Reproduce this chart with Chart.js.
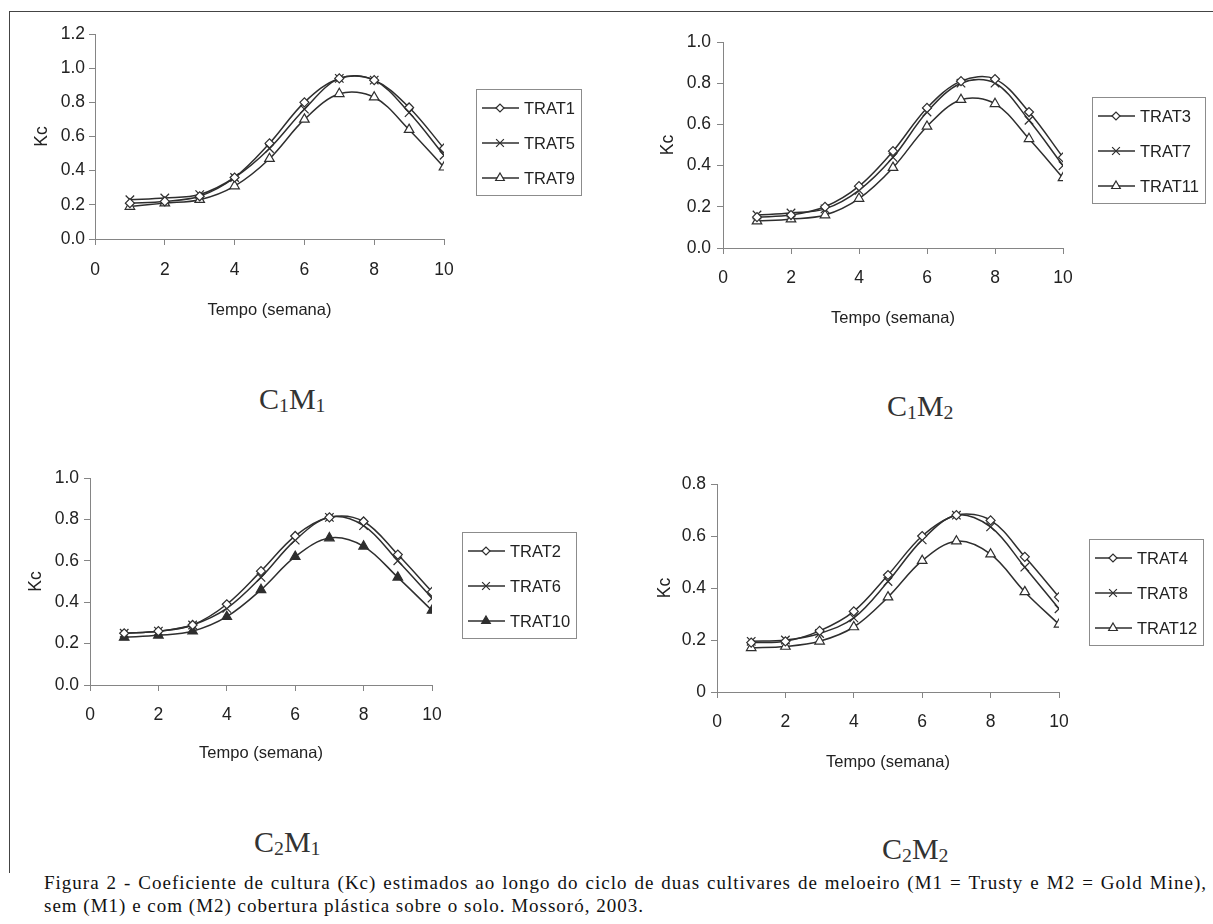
<!DOCTYPE html>
<html lang="pt">
<head>
<meta charset="utf-8">
<title>Figura 2 - Kc meloeiro</title>
<script src="https://cdn.jsdelivr.net/npm/chart.js@4.4.1/dist/chart.umd.min.js"></script>
<style>
  html, body { margin: 0; padding: 0; background: #fff; }
  body { width: 1213px; height: 924px; position: relative; overflow: hidden; }
  .frame-top { position: absolute; left: 9px; top: 11px; width: 1204px; border-top: 1.5px solid #444; }
  .frame-left { position: absolute; left: 9px; top: 11px; height: 862px; border-left: 1.5px solid #444; }
  canvas { position: absolute; }
  .sub { position: absolute; font-family: "Liberation Serif", "Times New Roman", serif; font-size: 30px;
         line-height: 1; color: #333; white-space: nowrap; }
  .sub sub { font-size: 0.66em; vertical-align: baseline; position: relative; top: 0.14em; }
  .cap { position: absolute; font-family: "Liberation Serif", "Times New Roman", serif; font-size: 19px;
         line-height: 20px; color: #111; white-space: nowrap; letter-spacing: 1px; }
  .cap.l1 { left: 44px; top: 873px; width: 1163px; white-space: normal; text-align: justify; text-align-last: justify; }
  .cap.l2 { left: 44px; top: 896px; }
</style>
</head>
<body>
<div class="frame-top"></div>
<div class="frame-left"></div>

<canvas id="c1m1" width="590" height="326" style="left:15px;top:14px"></canvas>
<canvas id="c1m2" width="593" height="320" style="left:620px;top:20px"></canvas>
<canvas id="c2m1" width="590" height="330" style="left:15px;top:450px"></canvas>
<canvas id="c2m2" width="593" height="330" style="left:620px;top:455px"></canvas>

<div class="sub" style="left:259px;top:384px">C<sub>1</sub>M<sub>1</sub></div>
<div class="sub" style="left:887px;top:391px">C<sub>1</sub>M<sub>2</sub></div>
<div class="sub" style="left:254px;top:827px">C<sub>2</sub>M<sub>1</sub></div>
<div class="sub" style="left:882px;top:834px">C<sub>2</sub>M<sub>2</sub></div>

<div class="cap l1">Figura 2 - Coeficiente de cultura (Kc) estimados ao longo do ciclo de duas cultivares de meloeiro (M1 = Trusty e M2 = Gold Mine),</div>
<div class="cap l2">sem (M1) e com (M2) cobertura plástica sobre o solo. Mossoró, 2003.</div>

<script>
// ---- dados ----
const semanas = [1, 2, 3, 4, 5, 6, 7, 8, 9, 10];
const xTicks = [0, 2, 4, 6, 8, 10];
const xLabels = ["0", "2", "4", "6", "8", "10"];

// C1M1
const trat1 = [0.21, 0.22, 0.25, 0.36, 0.56, 0.80, 0.94, 0.93, 0.77, 0.53];
const trat5 = [0.23, 0.24, 0.26, 0.36, 0.53, 0.76, 0.94, 0.93, 0.74, 0.49];
const trat9 = [0.19, 0.21, 0.23, 0.31, 0.47, 0.70, 0.85, 0.83, 0.64, 0.42];
// C1M2
const trat3 = [0.15, 0.16, 0.20, 0.30, 0.47, 0.68, 0.81, 0.82, 0.66, 0.44];
const trat7 = [0.16, 0.17, 0.19, 0.28, 0.44, 0.66, 0.80, 0.80, 0.62, 0.40];
const trat11 = [0.13, 0.14, 0.16, 0.24, 0.39, 0.59, 0.72, 0.70, 0.53, 0.34];
// C2M1
const trat2 = [0.25, 0.26, 0.29, 0.39, 0.55, 0.72, 0.81, 0.79, 0.63, 0.45];
const trat6 = [0.25, 0.26, 0.29, 0.37, 0.52, 0.70, 0.81, 0.77, 0.60, 0.42];
const trat10 = [0.23, 0.24, 0.26, 0.33, 0.46, 0.62, 0.71, 0.67, 0.52, 0.36];
// C2M2
const trat4 = [0.19, 0.195, 0.235, 0.31, 0.45, 0.60, 0.68, 0.66, 0.52, 0.365];
const trat8 = [0.195, 0.20, 0.225, 0.285, 0.425, 0.585, 0.68, 0.635, 0.48, 0.32];
const trat12 = [0.17, 0.175, 0.195, 0.25, 0.365, 0.505, 0.58, 0.53, 0.385, 0.26];

const yTicksA = [0, 0.2, 0.4, 0.6, 0.8, 1.0, 1.2];
const yLabelsA = ["0.0", "0.2", "0.4", "0.6", "0.8", "1.0", "1.2"];
const yTicksB = [0, 0.2, 0.4, 0.6, 0.8, 1.0];
const yLabelsB = ["0.0", "0.2", "0.4", "0.6", "0.8", "1.0"];
const yTicksC = [0, 0.2, 0.4, 0.6, 0.8];
const yLabelsC = ["0", "0.2", "0.4", "0.6", "0.8"];

// ---- estilo ----
const FONT = "'Liberation Sans', Arial, sans-serif";
const TICKSIZE = 17.5;
const TXTSIZE = 16.5;
const LH_T = TICKSIZE * 1.2;
const LH_X = TXTSIZE * 1.2;
const LINE = "#2e2e2e";
const AXIS = "#858585";
const TICK = 6;

Chart.defaults.font.family = FONT;
Chart.defaults.font.size = TICKSIZE;
Chart.defaults.color = "#222";

const MARK = {
  losango: { pointStyle: "rectRot", pointRadius: 4.5, pointBackgroundColor: "#fff" },
  xis: { pointStyle: "crossRot", pointRadius: 6, pointBackgroundColor: LINE },
  triang: { pointStyle: "triangle", pointRadius: 5.5, pointBackgroundColor: "#fff" },
  triangCheio: { pointStyle: "triangle", pointRadius: 5.5, pointBackgroundColor: LINE },
};

function serie(label, valores, marca) {
  return Object.assign({
    label,
    data: semanas.map((s, i) => ({ x: s, y: valores[i] })),
    borderColor: LINE,
    borderWidth: 1.5,
    pointBorderColor: LINE,
    pointBorderWidth: 1.2,
    tension: 0.35,
    fill: false,
  }, MARK[marca]);
}

// legenda em caixa (linha - marcador - linha + texto)
const boxLegend = {
  id: "boxLegend",
  afterDraw(chart, args, opts) {
    const ctx = chart.ctx;
    const x0 = opts.left, y0 = opts.top;
    const sets = chart.data.datasets;
    ctx.save();
    ctx.font = TXTSIZE + "px " + FONT;
    let maxW = 0;
    sets.forEach((ds) => { maxW = Math.max(maxW, ctx.measureText(ds.label).width); });
    const w = Math.round(48 + maxW + 6), h = 106;
    ctx.strokeStyle = "#8c8c8c";
    ctx.lineWidth = 1;
    ctx.strokeRect(x0 + 0.5, y0 + 0.5, w, h);
    sets.forEach((ds, i) => {
      const y = y0 + 19 + i * 35;
      ctx.strokeStyle = LINE;
      ctx.lineWidth = ds.borderWidth;
      ctx.beginPath();
      ctx.moveTo(x0 + 6, y);
      ctx.lineTo(x0 + 43, y);
      ctx.stroke();
      ctx.fillStyle = ds.pointBackgroundColor;
      ctx.strokeStyle = LINE;
      ctx.lineWidth = ds.pointBorderWidth;
      Chart.helpers.drawPoint(ctx, {
        pointStyle: ds.pointStyle, radius: ds.pointRadius - 0.5, rotation: 0, borderWidth: ds.pointBorderWidth,
      }, x0 + 24, y);
      ctx.fillStyle = "#222";
      ctx.textAlign = "left";
      ctx.textBaseline = "middle";
      ctx.fillText(ds.label, x0 + 48, y + 1);
    });
    ctx.restore();
  },
};

// p = posições na página (canvas, área do gráfico, títulos, legenda)
function makeChart(id, p, datasets, yTicks, yLabels) {
  const cv = document.getElementById(id);
  const cx = parseFloat(cv.style.left), cy = parseFloat(cv.style.top);
  const cw = cv.width, ch = cv.height;
  const a = p.area;

  return new Chart(cv, {
    type: "line",
    data: { datasets },
    plugins: [boxLegend],
    options: {
      responsive: false,
      animation: false,
      events: [],
      layout: { padding: { left: 0, top: a.t - cy, right: cx + cw - a.r, bottom: 0 } },
      plugins: {
        legend: { display: false },
        tooltip: { enabled: false },
        boxLegend: { left: p.legend[0] - cx, top: p.legend[1] - cy },
      },
      scales: {
        x: {
          type: "linear",
          min: 0,
          max: 10,
          afterFit: (s) => { s.height = cy + ch - a.b; },
          afterBuildTicks: (s) => { s.ticks = xTicks.map((v) => ({ value: v })); },
          ticks: {
            padding: p.xLabY - a.b - TICK - LH_T / 2,
            maxRotation: 0,
            callback: (v, i) => xLabels[i],
          },
          grid: { drawOnChartArea: false, drawTicks: true, tickLength: TICK, color: AXIS },
          border: { display: true, color: AXIS, width: 1 },
          title: {
            display: true,
            text: "Tempo (semana)",
            font: { size: TXTSIZE },
            padding: { top: 0, bottom: cy + ch - p.tempoY - LH_X / 2 },
          },
        },
        y: {
          type: "linear",
          min: 0,
          max: yTicks[yTicks.length - 1],
          afterFit: (s) => { s.width = a.l - cx; },
          afterBuildTicks: (s) => { s.ticks = yTicks.map((v) => ({ value: v })); },
          ticks: {
            padding: a.l - TICK - p.yLabRight,
            callback: (v, i) => yLabels[i],
          },
          grid: { drawOnChartArea: false, drawTicks: true, tickLength: TICK, color: AXIS },
          border: { display: true, color: AXIS, width: 1 },
          title: {
            display: true,
            text: "Kc",
            font: { size: TICKSIZE },
            padding: { top: p.kcX - cx - LH_T / 2, bottom: 0 },
          },
        },
      },
    },
  });
}

makeChart("c1m1", {
  area: { l: 95, r: 444, t: 34, b: 239 },
  yLabRight: 85, xLabY: 270, tempoY: 310, kcX: 42, legend: [476, 89],
}, [serie("TRAT1", trat1, "losango"), serie("TRAT5", trat5, "xis"), serie("TRAT9", trat9, "triang")],
yTicksA, yLabelsA);

makeChart("c1m2", {
  area: { l: 723, r: 1063, t: 42, b: 248 },
  yLabRight: 711, xLabY: 278, tempoY: 318, kcX: 668, legend: [1092, 97],
}, [serie("TRAT3", trat3, "losango"), serie("TRAT7", trat7, "xis"), serie("TRAT11", trat11, "triang")],
yTicksB, yLabelsB);

makeChart("c2m1", {
  area: { l: 90, r: 432, t: 478, b: 685 },
  yLabRight: 79, xLabY: 715, tempoY: 753, kcX: 36, legend: [462, 532],
}, [serie("TRAT2", trat2, "losango"), serie("TRAT6", trat6, "xis"), serie("TRAT10", trat10, "triangCheio")],
yTicksB, yLabelsB);

makeChart("c2m2", {
  area: { l: 717, r: 1059, t: 484, b: 692 },
  yLabRight: 706, xLabY: 722, tempoY: 762, kcX: 665, legend: [1089, 539],
}, [serie("TRAT4", trat4, "losango"), serie("TRAT8", trat8, "xis"), serie("TRAT12", trat12, "triang")],
yTicksC, yLabelsC);
</script>
</body>
</html>
